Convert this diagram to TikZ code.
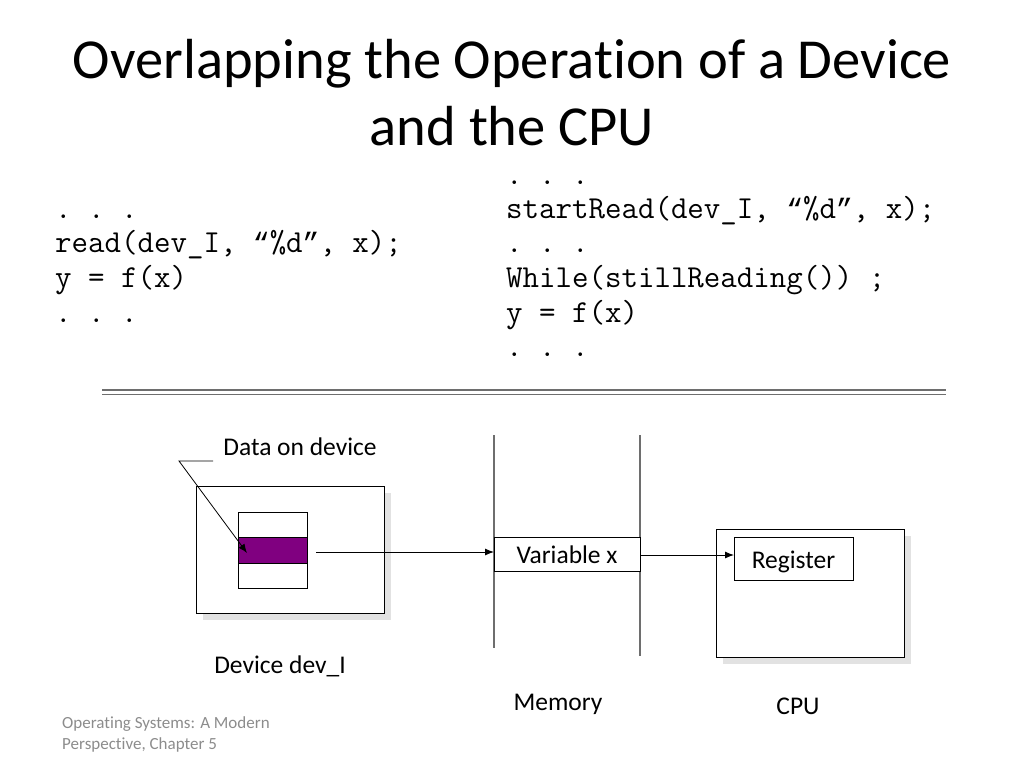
\documentclass[tikz,border=0pt]{standalone}
\usepackage{fontspec}
\setmainfont[Ligatures=NoCommon]{Carlito}
\newfontfamily\qfont{Liberation Mono}
\usetikzlibrary{arrows.meta}
\definecolor{shadowgray}{HTML}{E2E2E2}
\definecolor{linegray}{HTML}{6E6E6E}
\definecolor{footgray}{HTML}{8C8C8C}
\definecolor{datapurple}{HTML}{800080}
\newcommand{\codelq}{{\qfont\fontsize{28}{34}\selectfont “}}
\newcommand{\coderq}{{\qfont\fontsize{28}{34}\selectfont ”}}
\tikzset{
  code/.style={anchor=base west, inner sep=0pt, font=\ttfamily\fontsize{32}{34}\selectfont},
  lbl/.style={anchor=base, inner sep=0pt, font=\fontsize{25.5}{30}\selectfont},
  ttl/.style={anchor=base, inner sep=0pt, font=\fontsize{56.5}{64}\selectfont},
  foot/.style={anchor=base west, inner sep=0pt, text=footgray, font=\fontsize{17}{21}\selectfont},
  box/.style={draw=black, line width=0.9pt, fill=white},
  memline/.style={draw=linegray, line width=1.6pt},
  conn/.style={draw=black, line width=0.9pt, -{Latex[length=9pt,width=7pt]}},
}
\begin{document}
\begin{tikzpicture}[x=1pt,y=-1pt]
\useasboundingbox (0,0) rectangle (1024,768);
% title
\node[ttl] (t1) at (512,78) {Overlapping the Operation of a Device};
\node[ttl] (t2) at (512,145) {and the CPU};
% left code
\node[code] (l1) at (55,218) {.\ .\ .};
\node[code] (l2) at (55,252) {read(dev\_I, \codelq\%d\coderq, x);};
\node[code] (l3) at (55,287) {y = f(x)};
\node[code] (l4) at (55,322) {.\ .\ .};
% right code
\node[code] (r0) at (506,184) {.\ .\ .};
\node[code] (r1) at (506,218) {startRead(dev\_I, \codelq\%d\coderq, x);};
\node[code] (r2) at (506,252) {.\ .\ .};
\node[code] (r3) at (506,287) {While(stillReading()) ;};
\node[code] (r4) at (506,322) {y = f(x)};
\node[code] (r5) at (506,356) {.\ .\ .};
% double rule
\draw[linegray, line width=1.4pt] (102,390) -- (946,390);
\draw[linegray, line width=1.4pt] (102,394.5) -- (946,394.5);
% device
\fill[shadowgray] (203,493) rectangle (391,620);
\draw[box] (196,486) rectangle (384,613);
\node[box, minimum width=69pt, minimum height=76pt, inner sep=0pt, anchor=north west] (store) at (238,512) {};
\node[fill=datapurple, draw=black, line width=0.7pt, minimum width=69pt, minimum height=26pt, inner sep=0pt, anchor=north west] (data) at (238,537) {};
\node[lbl] (dlbl) at (300,455) {Data on device};
\coordinate (lead1) at (213,461);
\coordinate (lead2) at (179,461);
\coordinate (tip) at (247,553);
\draw[black, line width=0.8pt, -{Latex[length=9pt,width=7pt]}] (lead1) -- (lead2) -- (tip);
\node[lbl] (devl) at (280,673) {Device dev\_I};
% memory
\draw[memline] (494,435) -- (494,648);
\draw[memline] (640,435) -- (640,656);
\node[box, minimum width=146pt, minimum height=34pt, inner sep=0pt, anchor=north west] (varx) at (494,537) {};
\node[lbl] (varxt) at (567,563) {Variable x};
\node[lbl] (meml) at (558,710) {Memory};
% cpu
\fill[shadowgray] (723,536) rectangle (911,664);
\draw[box] (716,529) rectangle (904,657);
\node[box, minimum width=119pt, minimum height=43pt, inner sep=0pt, anchor=north west] (reg) at (734,537) {};
\node[lbl] (regt) at (793.5,568) {Register};
\node[lbl] (cpul) at (798,714) {CPU};
% connectors
\coordinate (dstart) at (316,552);
\draw[conn] (dstart) -- (dstart -| varx.west);
\draw[conn] (varx.east |- 0,555) -- (reg.west |- 0,555);
% footer
\node[foot] (foot1) at (62,728) {Operating Systems: A Modern};
\node[foot] (foot2) at (62,749) {Perspective, Chapter 5};
\end{tikzpicture}
\end{document}
